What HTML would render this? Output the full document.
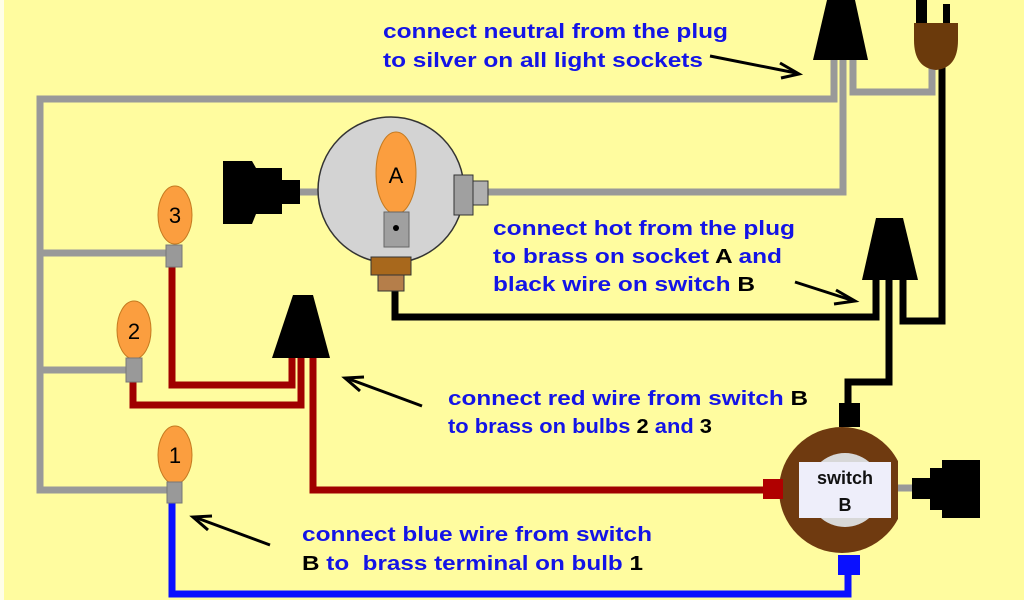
<!DOCTYPE html>
<html><head><meta charset="utf-8"><style>
html,body{margin:0;padding:0;background:#fffc9f;}
svg{display:block}
text{font-family:"Liberation Sans",sans-serif;font-weight:bold;}
</style></head><body>
<svg width="1024" height="600" viewBox="0 0 1024 600" xmlns="http://www.w3.org/2000/svg">
<rect width="1024" height="600" fill="#fffc9f"/>
<rect width="4" height="600" fill="#fffee8"/>
<g fill="none" stroke-linejoin="miter">
<!-- gray neutral wires -->
<g stroke="#999" stroke-width="7">
<path d="M834,58 V99 H40 V490 H170"/>
<path d="M40,253 H170"/>
<path d="M40,370 H130"/>
<path d="M843,58 V192 H488"/>
<path d="M300,192 H320"/>
<path d="M853,58 V92 H932 V62"/>
<path d="M897,488 H914"/>
</g>
<!-- black hot -->
<g stroke="#000" stroke-width="7">
<path d="M942,64 V321 H903 V278"/>
<path d="M395,288 V317 H876 V278"/>
<path d="M889,278 V382 H848 V406"/>
</g>
<!-- red -->
<g stroke="#a00000" stroke-width="7">
<path d="M172,265 V385 H292 V355"/>
<path d="M133,380 V405 H301 V355"/>
<path d="M313,355 V490 H766"/>
</g>
<!-- blue -->
<path d="M172,502 V594 H848 V570" stroke="#0a10ff" stroke-width="7"/>
</g>
<!-- neutral nut -->
<polygon points="827,0 855,0 868,60 813,60" fill="#000"/>
<!-- plug -->
<rect x="916" y="0" width="11" height="24" fill="#000"/>
<rect x="943" y="4" width="7" height="20" fill="#000"/>
<path d="M914,23 H958 V40 Q958,68 936,70 Q914,68 914,40 Z" fill="#6b3a0c"/>
<!-- hot nut -->
<polygon points="876,218 903,218 918,280 862,280" fill="#000"/>
<!-- red nut -->
<polygon points="293,295 313,295 330,358 272,358" fill="#000"/>
<!-- socket A -->
<circle cx="391" cy="190" r="73" fill="#d3d3d3" stroke="#333" stroke-width="1.5"/>
<ellipse cx="396" cy="173" rx="20" ry="41" fill="#fb9e3f" stroke="#c47a20" stroke-width="1"/>
<rect x="384" y="212" width="25" height="35" fill="#a0a0a0" stroke="#666"/>
<circle cx="396" cy="228" r="3" fill="#000"/>
<rect x="371" y="257" width="40" height="18" fill="#a8681c" stroke="#333"/>
<rect x="378" y="275" width="26" height="16" fill="#b57e4a" stroke="#333"/>
<rect x="454" y="175" width="19" height="40" fill="#a0a0a0" stroke="#333"/>
<rect x="473" y="181" width="15" height="24" fill="#b0b0b0" stroke="#333"/>
<text x="396" y="183" font-size="22" font-weight="normal" text-anchor="middle" fill="#000" style="font-weight:normal">A</text>
<!-- left plug -->
<path d="M223,161 H252 L256,168 H282 V180 H300 V204 H282 V214 H256 L252,224 H223 Z" fill="#000"/>
<!-- bulbs -->
<g stroke="#c47a20" stroke-width="1">
<ellipse cx="175" cy="215" rx="17" ry="29" fill="#fb9e3f"/>
<ellipse cx="134" cy="330" rx="17" ry="29" fill="#fb9e3f"/>
<ellipse cx="175" cy="455" rx="17" ry="29" fill="#fb9e3f"/>
</g>
<rect x="166" y="245" width="16" height="22" fill="#999" stroke="#777"/>
<rect x="126" y="358" width="16" height="24" fill="#999" stroke="#777"/>
<rect x="167" y="482" width="15" height="21" fill="#999" stroke="#777"/>
<g font-size="22" fill="#000" text-anchor="middle" style="font-weight:normal">
<text x="175" y="223" style="font-weight:normal">3</text>
<text x="134" y="339" style="font-weight:normal">2</text>
<text x="175" y="463" style="font-weight:normal">1</text>
</g>
<!-- switch B -->
<clipPath id="cl"><rect x="700" y="400" width="198" height="200"/></clipPath>
<circle cx="842" cy="490" r="63" fill="#6f3a10" clip-path="url(#cl)"/>
<circle cx="845" cy="490" r="37" fill="#d8d8d8"/>
<rect x="799" y="462" width="92" height="56" fill="#eeeefa"/>
<rect x="839" y="403" width="21" height="24" fill="#000"/>
<rect x="763" y="479" width="20" height="20" fill="#b00000"/>
<rect x="838" y="555" width="22" height="20" fill="#0a10ff"/>
<text x="845" y="484" font-size="18" text-anchor="middle" fill="#111">switch</text>
<text x="845" y="511" font-size="18" text-anchor="middle" fill="#111">B</text>
<!-- right plug -->
<path d="M912,478 H930 V468 H942 V460 H980 V518 H942 V510 H930 V499 H912 Z" fill="#000"/>
<!-- arrows -->
<g stroke="#000" stroke-width="3" fill="none">
<path d="M710,56 L796,73"/><path d="M780,63 L799,74 L781,78"/>
<path d="M795,282 L851,300"/><path d="M836,290 L855,301 L834,304"/>
<path d="M422,406 L349,379"/><path d="M364,377 L345,378 L360,391"/>
<path d="M270,545 L197,518"/><path d="M212,516 L193,517 L208,530"/>
</g>
<!-- labels -->
<g font-size="20" fill="#1414e6">
<text x="383" y="38" textLength="345" lengthAdjust="spacingAndGlyphs">connect neutral from the plug</text>
<text x="383" y="67" textLength="320" lengthAdjust="spacingAndGlyphs">to silver on all light sockets</text>
<text x="493" y="235" textLength="302" lengthAdjust="spacingAndGlyphs">connect hot from the plug</text>
<text x="493" y="263" textLength="289" lengthAdjust="spacingAndGlyphs">to brass on socket <tspan fill="#000">A</tspan> and</text>
<text x="493" y="291" textLength="262" lengthAdjust="spacingAndGlyphs">black wire on switch <tspan fill="#000">B</tspan></text>
<text x="448" y="405" textLength="360" lengthAdjust="spacingAndGlyphs">connect red wire from switch <tspan fill="#000">B</tspan></text>
<text x="448" y="433" textLength="264" lengthAdjust="spacingAndGlyphs">to brass on bulbs <tspan fill="#000">2</tspan> and <tspan fill="#000">3</tspan></text>
<text x="302" y="541" textLength="350" lengthAdjust="spacingAndGlyphs">connect blue wire from switch</text>
<text x="302" y="570" textLength="341" lengthAdjust="spacingAndGlyphs" xml:space="preserve"><tspan fill="#000">B</tspan> to  brass terminal on bulb <tspan fill="#000">1</tspan></text>
</g>
</svg>
</body></html>
